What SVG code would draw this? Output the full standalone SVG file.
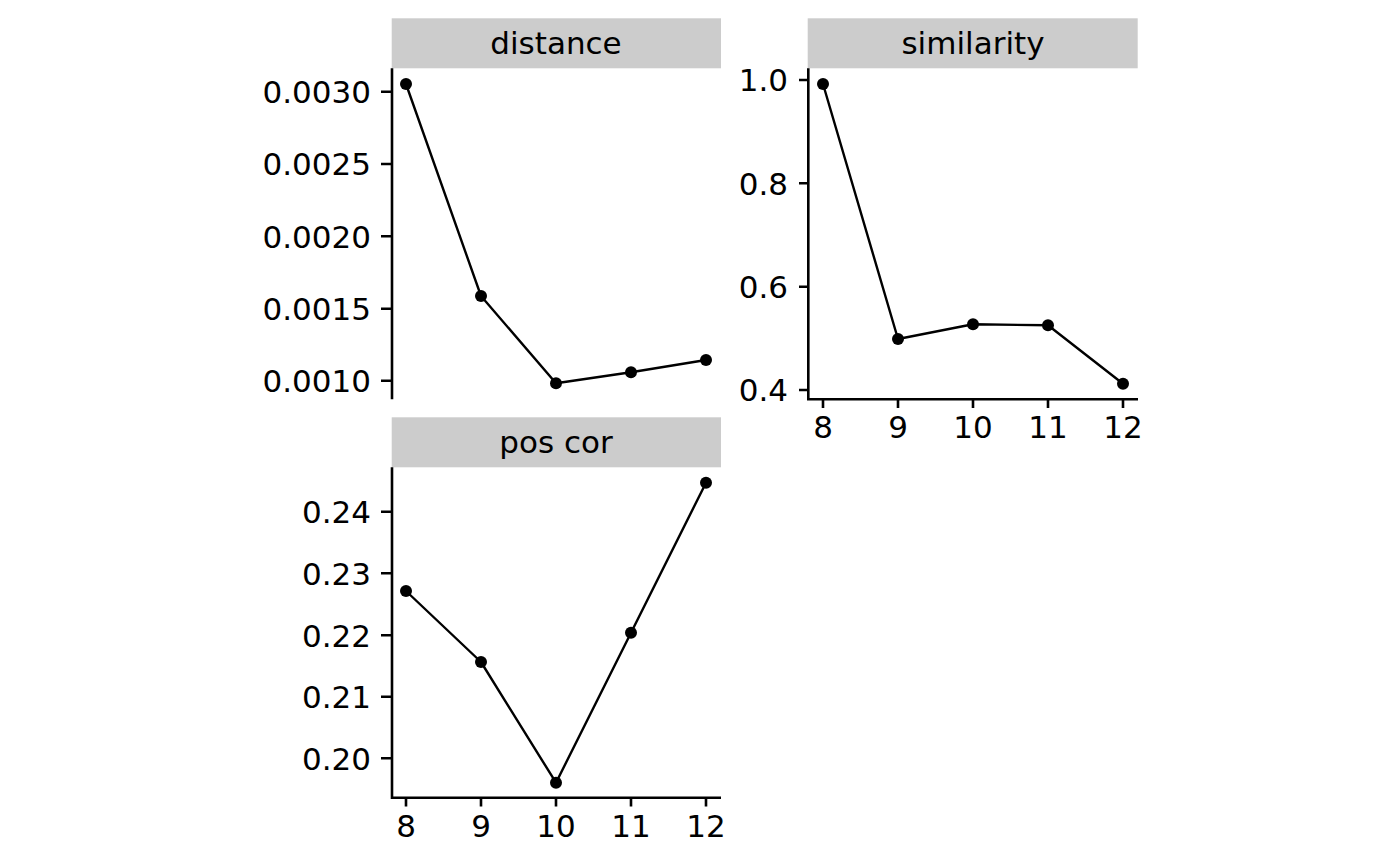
<svg xmlns="http://www.w3.org/2000/svg" width="1400" height="866" viewBox="0 0 1400 866">
<style>
text{font-family:"DejaVu Sans",sans-serif;font-size:31px;fill:#000}
.yl{text-anchor:end}
.xl,.st{text-anchor:middle}
.strip{fill:#CCCCCC}
.ax{stroke:#000;stroke-width:2.6;fill:none;stroke-linecap:butt}
.ln{stroke:#000;stroke-width:2.4;fill:none;stroke-linejoin:round}
.pt{fill:#000}
</style>
<rect width="1400" height="866" fill="#fff"/>
<g id="panel-distance">
<rect class="strip" x="391.7" y="18.3" width="329.3" height="50"/>
<text class="st" x="556" y="54.3">distance</text>
<path class="ax" d="M392 68.3V399.3M381 91.7H392M381 164H392M381 236.3H392M381 308.7H392M381 380.7H392"/>
<text class="yl" x="371" y="103">0.0030</text>
<text class="yl" x="371" y="175.3">0.0025</text>
<text class="yl" x="371" y="247.6">0.0020</text>
<text class="yl" x="371" y="320">0.0015</text>
<text class="yl" x="371" y="392">0.0010</text>
<polyline class="ln" points="406,84 481,296 556,383.3 631,372.3 706,360"/>
<g class="pt"><circle cx="406" cy="84" r="6"/><circle cx="481" cy="296" r="6"/><circle cx="556" cy="383.3" r="6"/><circle cx="631" cy="372.3" r="6"/><circle cx="706" cy="360" r="6"/></g>
</g>
<g id="panel-similarity">
<rect class="strip" x="807.7" y="18.3" width="330" height="50"/>
<text class="st" x="973" y="54.3">similarity</text>
<path class="ax" d="M808.3 68.3V399.3H1138M799 80H808.3M799 183.3H808.3M799 286.7H808.3M799 390H808.3M823 399.3V408M898 399.3V408M973 399.3V408M1048 399.3V408M1123 399.3V408"/>
<text class="yl" x="788" y="91.3">1.0</text>
<text class="yl" x="788" y="194.6">0.8</text>
<text class="yl" x="788" y="298">0.6</text>
<text class="yl" x="788" y="401.3">0.4</text>
<text class="xl" x="823" y="437.5">8</text>
<text class="xl" x="898" y="437.5">9</text>
<text class="xl" x="973" y="437.5">10</text>
<text class="xl" x="1048" y="437.5">11</text>
<text class="xl" x="1123" y="437.5">12</text>
<polyline class="ln" points="823,84 898,339 973,324.3 1048,325.3 1123,383.7"/>
<g class="pt"><circle cx="823" cy="84" r="6"/><circle cx="898" cy="339" r="6"/><circle cx="973" cy="324.3" r="6"/><circle cx="1048" cy="325.3" r="6"/><circle cx="1123" cy="383.7" r="6"/></g>
</g>
<g id="panel-poscor">
<rect class="strip" x="391.7" y="417.3" width="329.3" height="50"/>
<text class="st" x="556" y="453.3">pos cor</text>
<path class="ax" d="M392 467.3V797.7H721M381 511.7H392M381 573.3H392M381 635.3H392M381 696.7H392M381 758.3H392M406 797.7V806.5M481 797.7V806.5M556 797.7V806.5M631 797.7V806.5M706 797.7V806.5"/>
<text class="yl" x="371" y="523">0.24</text>
<text class="yl" x="371" y="584.6">0.23</text>
<text class="yl" x="371" y="646.6">0.22</text>
<text class="yl" x="371" y="708">0.21</text>
<text class="yl" x="371" y="769.6">0.20</text>
<text class="xl" x="406" y="837">8</text>
<text class="xl" x="481" y="837">9</text>
<text class="xl" x="556" y="837">10</text>
<text class="xl" x="631" y="837">11</text>
<text class="xl" x="706" y="837">12</text>
<polyline class="ln" points="406,591 481,662 556,782.7 631,632.7 706,482.7"/>
<g class="pt"><circle cx="406" cy="591" r="6"/><circle cx="481" cy="662" r="6"/><circle cx="556" cy="782.7" r="6"/><circle cx="631" cy="632.7" r="6"/><circle cx="706" cy="482.7" r="6"/></g>
</g>
</svg>
